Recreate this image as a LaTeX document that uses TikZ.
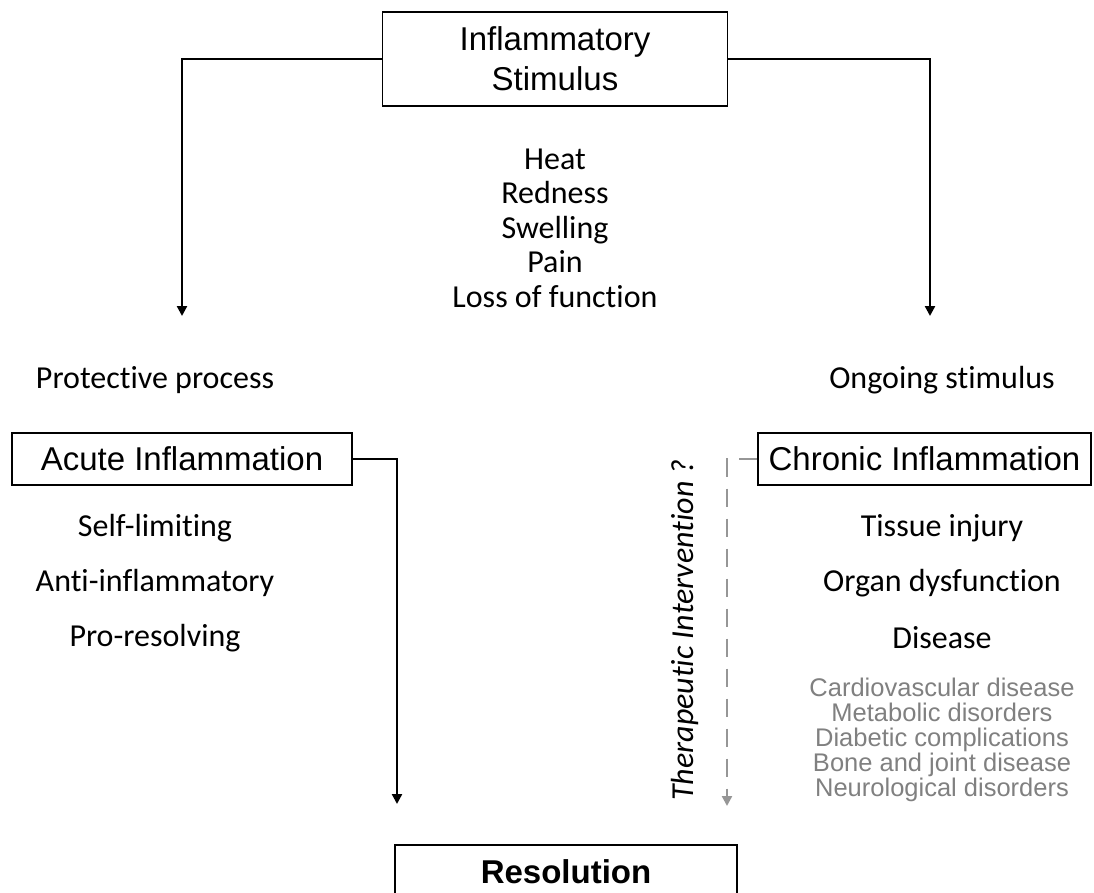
\documentclass[tikz,border=0pt]{standalone}
\usepackage{fontspec}
\newfontfamily\arialf{Liberation Sans}
\newfontfamily\calf[Ligatures=NoCommon]{Carlito}
\usetikzlibrary{arrows.meta,positioning}
\definecolor{txtgray}{RGB}{128,128,128}
\definecolor{dashgray}{RGB}{150,150,150}

\begin{document}
\begin{tikzpicture}[x=1pt,y=-1pt,>={Triangle[length=10pt,width=10pt]},node distance=55pt,on grid,
  box/.style={draw,line width=1.2pt,inner sep=0pt,align=center,
    font=\arialf\fontsize{33}{40}\selectfont},
  lbl/.style={align=center,font=\calf\fontsize{32}{34.5}\selectfont},
  dis/.style={align=center,text=txtgray,font=\arialf\fontsize{25.5}{25}\selectfont},
  link/.style={->,line width=2.3pt}]
\useasboundingbox (0,0) rectangle (1094,892);
\node[box,minimum width=345pt,minimum height=94pt] (stim) at (555,59) {Inflammatory\\Stimulus};
\node[lbl] (signs) at (555,228) {Heat\\Redness\\Swelling\\Pain\\Loss of function};
\coordinate (p_in) at (182,316);
\coordinate (o_in) at (930,316);
\node[lbl] (prot) at (155,380) {Protective process};
\node[lbl] (ongo) at (942,380) {Ongoing stimulus};
\node[box,minimum width=340pt,minimum height=52pt] (acute) at (182,459) {Acute Inflammation};
\node[box,minimum width=333pt,minimum height=52pt] (chron) at (924.5,459) {Chronic Inflammation};
% acute branch
\node[lbl] (a_1) at (155,528) {Self-limiting};
\node[lbl] (a_2) [below=of a_1] {Anti-inflammatory};
\node[lbl] (a_3) [below=of a_2] {Pro-resolving};
% chronic branch
\node[lbl] (c_1) at (942,528) {Tissue injury};
\node[lbl] (c_2) [below=of c_1] {Organ dysfunction};
\node[lbl] (c_3) [below=of c_2] {Disease};
\node[dis] (dis) at (942,740) {Cardiovascular disease\\Metabolic disorders\\Diabetic complications\\Bone and joint disease\\Neurological disorders};
\node[lbl,rotate=90,font=\calf\itshape\fontsize{32}{34.5}\selectfont] (ther) at (685,630) {Therapeutic Intervention ?};
\node[box,font=\arialf\bfseries\fontsize{33}{40}\selectfont,minimum width=342pt,minimum height=54pt] (res) at (566,872) {Resolution};
\coordinate (r_in) at (397,804);
\coordinate (t_in) at (727,806);
\draw[link] (stim.west) -| (p_in);
\draw[link] (stim.east) -| (o_in);
\draw[link] (acute.east) -| (r_in);
\draw[->,dashgray,line width=2.3pt,dash pattern=on 18pt off 12pt] (chron.west) -| (t_in);
\end{tikzpicture}
\end{document}
